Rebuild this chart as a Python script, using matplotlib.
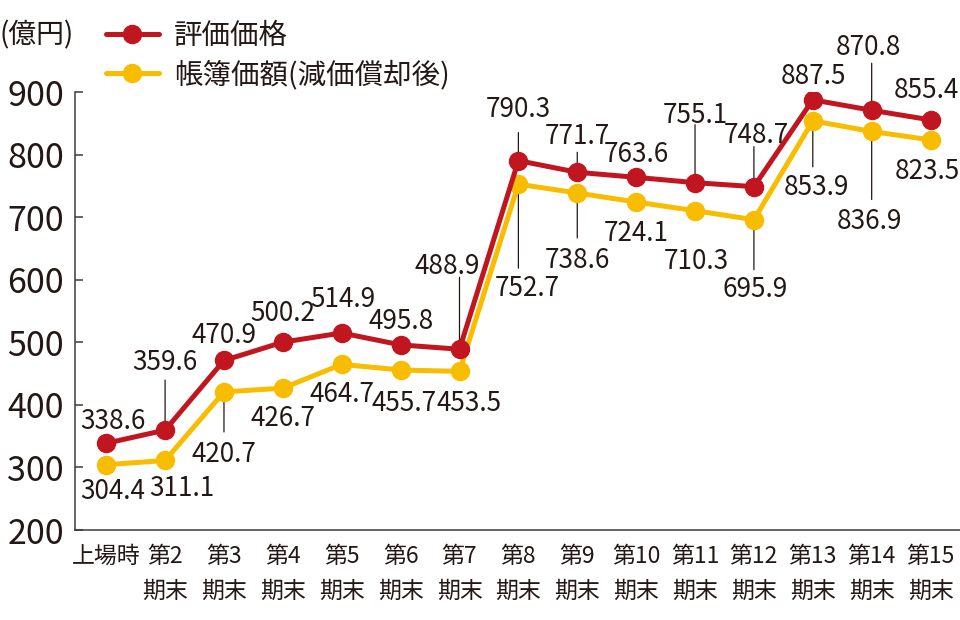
import matplotlib
matplotlib.use("Agg")
import matplotlib.pyplot as plt

plt.rcParams['font.family'] = ['Noto Sans CJK JP', 'DejaVu Sans']

# ---- data ----
categories = ["上場時", "第2\n期末", "第3\n期末", "第4\n期末", "第5\n期末", "第6\n期末", "第7\n期末",
              "第8\n期末", "第9\n期末", "第10\n期末", "第11\n期末", "第12\n期末", "第13\n期末",
              "第14\n期末", "第15\n期末"]
appraisal = [338.6, 359.6, 470.9, 500.2, 514.9, 495.8, 488.9, 790.3, 771.7, 763.6, 755.1,
             748.7, 887.5, 870.8, 855.4]
book = [304.4, 311.1, 420.7, 426.7, 464.7, 455.7, 453.5, 752.7, 738.6, 724.1, 710.3,
        695.9, 853.9, 836.9, 823.5]
yticks = [200, 300, 400, 500, 600, 700, 800, 900]
series_names = ["評価価格", "帳簿価額(減価償却後)"]
unit_label = "(億円)"

# ---- styling / label placement (pixels, screen-down positive) ----
RED = "#C1161F"
YEL = "#F8BD00"
INK = "#231815"
AXC = "#3E3A39"

red_off = [(7, -24), (0, -70), (0, -27), (0, -31), (1, -36), (1, -26), (-12, -85),
           (0, -54), (0, -38), (0, -25), (0, -70), (2, -54), (1, -26), (-3, -65), (-4, -32)]
yel_off = [(6, 24), (17, 26), (0, 60), (0, 28), (0, 28), (3, 31), (10, 30),
           (9, 102), (0, 65), (0, 29), (1, 48), (1, 67), (4, 64), (-2, 88), (-3, 29)]
# leader lines: (index, length in px, screen-down positive)
red_lead = [(1, -50), (6, -72), (7, -28), (8, -20), (10, -58), (11, -40), (13, -47)]
yel_lead = [(2, 40), (7, 84), (8, 45), (11, 50), (12, 46), (13, 68)]

fig = plt.figure(figsize=(9.6, 6.2), dpi=100)
ax = fig.add_axes([75/960, 90/620, 1 - 75/960, (530 - 92)/620])

x = list(range(len(categories)))
l1, = ax.plot(x, appraisal, color=RED, lw=3.6, marker="o", ms=13, zorder=3,
              solid_capstyle="round", label=series_names[0])
l2, = ax.plot(x, book, color=YEL, lw=3.6, marker="o", ms=13, zorder=2.5,
              solid_capstyle="round", label=series_names[1])

ax.set_xlim(-0.53, 14.5)
ax.set_ylim(200, 900)
ax.set_yticks(yticks)
ax.set_yticklabels([str(t) for t in yticks])
ax.set_xticks(x)
ax.set_xticklabels(categories, linespacing=1.62)

for s in ["top", "right"]:
    ax.spines[s].set_visible(False)
for s in ["left", "bottom"]:
    ax.spines[s].set_color(AXC)
    ax.spines[s].set_linewidth(1.1)

ax.tick_params(axis="y", direction="in", length=6, width=1.1, color=AXC,
               labelsize=24.5, labelcolor=INK, pad=8)
ax.tick_params(axis="x", length=0, labelsize=16.5, labelcolor=INK, pad=11)

def leaders(vals, specs):
    for i, L in specs:
        ax.annotate("", xy=(i, vals[i]), xytext=(0, -L), textcoords="offset pixels",
                    arrowprops=dict(arrowstyle="-", color=INK, lw=0.9, shrinkA=0, shrinkB=0),
                    zorder=1)

def labels(vals, offs):
    for i, v in enumerate(vals):
        dx, dy = offs[i]
        ax.annotate(f"{v:.1f}", xy=(i, v), xytext=(dx, -(dy + 10)),
                    textcoords="offset pixels", ha="center", va="baseline",
                    fontsize=18.8, color=INK, zorder=5)

leaders(appraisal, red_lead)
leaders(book, yel_lead)
labels(appraisal, red_off)
labels(book, yel_off)

fig.text(0/960, 1 - 35/620, unit_label, ha="left", va="center", fontsize=20, color=INK)

fig.legend(handles=[l1, l2], loc="upper left", bbox_to_anchor=(106/960, 1 - 21/620),
           frameon=False, fontsize=20.5, handlelength=1.85, handletextpad=0.55,
           labelspacing=0.33, borderpad=0, borderaxespad=0, labelcolor=INK)

fig.savefig("out.png", dpi=100)
